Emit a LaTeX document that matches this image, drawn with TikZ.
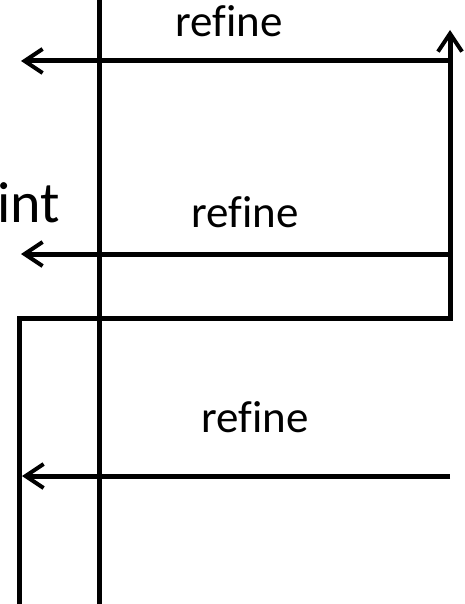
\documentclass[tikz,border=0pt]{standalone}
\usepackage{fontspec}
\setmainfont{Carlito}[Ligatures={NoCommon}]
\usetikzlibrary{arrows.meta}
\begin{document}
\begin{tikzpicture}[x=1pt,y=1pt,
  wire/.style={line width=5pt, line join=miter, draw=black},
  arr/.style={wire, -{Straight Barb[length=18pt,width=24pt,line width=4pt]}},
  lbl/.style={font=\fontsize{45}{45}\selectfont, inner sep=0pt, anchor=base},
  biglbl/.style={font=\fontsize{58}{58}\selectfont, inner sep=0pt, anchor=base west}]
\useasboundingbox (0,0) rectangle (464,-604);
% coordinates
\coordinate (vtop) at (99,0);
\coordinate (vbot) at (99,-604);
\coordinate (r1) at (450,-61);
\coordinate (l1) at (21,-61);
\coordinate (r2) at (450,-254);
\coordinate (l2) at (21,-254);
\coordinate (lb) at (19,-604);
\coordinate (lt) at (19,-318);
\coordinate (rb) at (450,-318);
\coordinate (rt) at (450,-30);
\coordinate (r3) at (450,-476);
\coordinate (l3) at (22,-476);
% lines
\draw[wire] (vtop) -- (vbot);
\draw[arr] (lb) -- (lt) -- (rb) -- (rt);
\draw[arr] (r1) -- (l1);
\draw[arr] (r2) -- (l2);
\draw[arr] (r3) -- (l3);
% labels
\node[lbl] (t1) at (229,-37) {refine};
\node[lbl] (t2) at (245,-227) {refine};
\node[lbl] (t3) at (255,-432) {refine};
\node[biglbl] (t4) at (-3,-222) {int};
\end{tikzpicture}
\end{document}
